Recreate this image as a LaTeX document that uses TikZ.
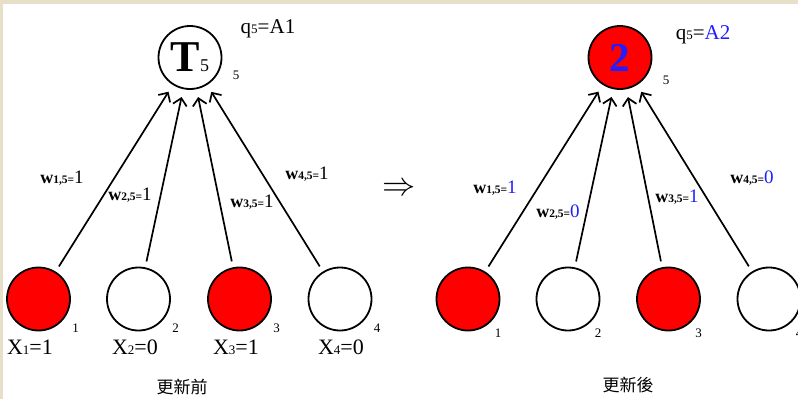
\documentclass[tikz,border=0pt]{standalone}
\usepackage{fontspec}
\setmainfont{Liberation Serif}
\newfontfamily\cjk{Noto Sans CJK TC}
\usepackage{tikz}
\usetikzlibrary{arrows.meta, calc}
\definecolor{paper}{HTML}{E8DFC9}
\definecolor{newblue}{RGB}{30,30,255}
\tikzset{
    unit/.style={circle, draw, line width=1.8pt, minimum size=63pt, inner sep=0pt},
    fired/.style={unit, fill=red},
    idle/.style={unit, fill=white},
    link/.style={-{Straight Barb[length=7pt, width=14pt]}, line width=1.7pt, shorten <=6pt, shorten >=8pt},
    idx/.style={font=\fontsize{13}{13}\selectfont, inner sep=0pt},
    weight/.style={inner sep=0pt},
    caption/.style={font=\cjk\fontsize{17}{17}\selectfont}
}
\newcommand{\wlab}[2]{{\fontsize{18}{18}\selectfont\textbf{w}}{\fontsize{11.5}{11.5}\selectfont\textbf{#1,5=}}{\fontsize{19}{19}\selectfont #2}}
\newcommand{\xlab}[2]{{\fontsize{22}{22}\selectfont X}{\fontsize{13}{13}\selectfont #1}{\fontsize{22}{22}\selectfont =#2}}
\newcommand{\qlab}[1]{{\fontsize{21}{21}\selectfont q}{\fontsize{13}{13}\selectfont 5}{\fontsize{21}{21}\selectfont =#1}}

\begin{document}
\begin{tikzpicture}[x=1pt, y=-1pt]
    % Frame
    \useasboundingbox (0,0) rectangle (798,399);
    \fill[paper] (0,0) rectangle (798,399);
    \fill[white] (3,4) rectangle (798,399);

    % Before update
    \node[idle] (t) at (190,57.5) {{\fontsize{44}{44}\selectfont\textbf{T}}{\fontsize{18}{18}\selectfont 5}};
    \node[idx] (ti) at (236,75) {5};
    \node (tq) at (268,29) {\qlab{A1}};
    \foreach \i/\x/\s/\l/\v in {1/38.5/fired/30/1, 2/138.5/idle/135/0, 3/239.5/fired/236/1, 4/340/idle/341/0} {
        \node[\s] (a\i) at (\x,299) {};
        \node[idx] (ai\i) at ($(a\i)+(37,29)$) {\i};
        \node (ax\i) at (\l,347) {\xlab{\i}{\v}};
        \draw[link] (a\i) -- (t);
    }
    \node[weight] (aw1) at (62,178) {\wlab{1}{1}};
    \node[weight] (aw2) at (130,195) {\wlab{2}{1}};
    \node[weight] (aw3) at (252,202) {\wlab{3}{1}};
    \node[weight] (aw4) at (307,174) {\wlab{4}{1}};
    \node[caption] (cap1) at (182,387) {更新前};

    % Implies
    \node[scale=1.6, inner sep=0pt] (imp) at (399,189) {\fontsize{20}{20}\selectfont$\Rightarrow$};

    % After update
    \node[fired] (u) at (620,57.5) {\fontsize{41}{41}\selectfont\color{newblue}\textbf{2}};
    \node[idx] (ui) at (666,80) {5};
    \node (uq) at (703,35) {\qlab{\color{newblue}A2}};
    \foreach \i/\x/\s in {1/468/fired, 2/568/idle, 3/668.5/fired, 4/769/idle} {
        \node[\s] (b\i) at (\x,299) {};
        \node[idx] (bi\i) at ($(b\i)+(30,34)$) {\i};
        \draw[link] (b\i) -- (u);
    }
    \node[weight] (bw1) at (495,188) {\wlab{1}{\color{newblue}1}};
    \node[weight] (bw2) at (558,212) {\wlab{2}{\color{newblue}0}};
    \node[weight] (bw3) at (677,197) {\wlab{3}{\color{newblue}1}};
    \node[weight] (bw4) at (752,178) {\wlab{4}{\color{newblue}0}};
    \node[caption] (cap2) at (628,385) {更新後};
\end{tikzpicture}
\end{document}
